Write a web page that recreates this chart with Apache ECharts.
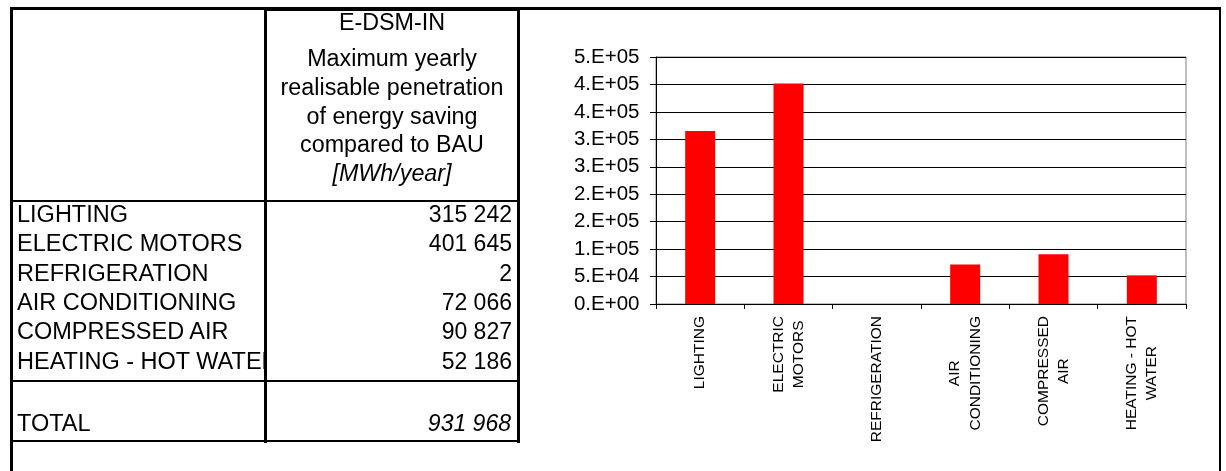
<!DOCTYPE html>
<html>
<head>
<meta charset="utf-8">
<script src="https://cdn.jsdelivr.net/npm/echarts@6/dist/echarts.min.js"></script>
<style>
  html, body { margin: 0; padding: 0; background: #fff; }
  #wrap { position: relative; width: 1226px; height: 471px; overflow: hidden; background: #fff; }
  #chart { position: absolute; left: 0; top: 0; width: 1226px; height: 471px; }
  .ln { position: absolute; background: #000; z-index: 6; }
  .txt { position: absolute; z-index: 7; font-family: "Liberation Sans", Arial, sans-serif; font-size: 23px; color: #000; white-space: nowrap; height: 29px; line-height: 29px; }
</style>
</head>
<body>
<div id="wrap">
  <div id="chart"></div>
  <div id="table"></div>
</div>
<script>
// ---- data ----
const categories = ['LIGHTING', 'ELECTRIC MOTORS', 'REFRIGERATION', 'AIR CONDITIONING', 'COMPRESSED AIR', 'HEATING - HOT WATER'];
const axisCategoryLabels = ['LIGHTING', 'ELECTRIC\nMOTORS', 'REFRIGERATION', 'AIR\nCONDITIONING', 'COMPRESSED\nAIR', 'HEATING - HOT\nWATER'];
const savings = [315242, 401645, 2, 72066, 90827, 52186];
const totalLabel = 'TOTAL';
const totalSaving = 931968;
const headerLines = ['E-DSM-IN', 'Maximum yearly', 'realisable penetration', 'of energy saving', 'compared to BAU'];
const headerUnit = '[MWh/year]';
const yTickLabels = ['0.E+00', '5.E+04', '1.E+05', '2.E+05', '2.E+05', '3.E+05', '3.E+05', '4.E+05', '4.E+05', '5.E+05'];
const yStep = 50000;

function fmt(n) {
  return String(n).replace(/\B(?=(\d{3})+(?!\d))/g, ' ');
}

// ---- table (HTML) ----
const T = document.getElementById('table');
function line(x, y, w, h) {
  const d = document.createElement('div');
  d.className = 'ln';
  d.style.left = x + 'px'; d.style.top = y + 'px';
  d.style.width = w + 'px'; d.style.height = h + 'px';
  T.appendChild(d);
}
function text(s, opts) {
  const d = document.createElement('div');
  d.className = 'txt';
  d.textContent = s;
  Object.assign(d.style, opts);
  T.appendChild(d);
  return d;
}
// outer frame
line(10, 7, 1211, 2.5);
line(10, 7, 2.5, 470);
line(1218.5, 7, 2.5, 470);
// table grid
line(264, 7, 2.8, 435.5);
line(517, 7, 3, 435.5);
line(265, 8, 255, 3);
line(10, 199.5, 510, 2.6);
line(10, 379.5, 510, 2.8);
line(10, 439.5, 510, 2.8);

// header text
const headerCenters = [22, 58, 87, 116, 144.5];
headerLines.forEach((s, i) => {
  text(s, { left: '267px', width: '250px', textAlign: 'center', top: (headerCenters[i] - 14.5) + 'px', fontSize: '23.3px' });
});
text(headerUnit, { left: '267px', width: '250px', textAlign: 'center', top: (173 - 14.5) + 'px', fontStyle: 'italic', fontSize: '23.3px' });

// data rows
const rowTop = 214.5, rowPitch = 29.3;
categories.forEach((c, i) => {
  const cy = rowTop + i * rowPitch;
  text(c, { left: '17px', width: '247px', overflow: 'hidden', top: (cy - 14.5) + 'px', fontSize: '23.5px' });
  text(fmt(savings[i]), { left: '267px', width: '245px', textAlign: 'right', top: (cy - 14.5) + 'px' });
});
text(totalLabel, { left: '17px', width: '247px', top: (423.3 - 14.5) + 'px', fontSize: '23.5px' });
text(fmt(totalSaving), { left: '267px', width: '244px', textAlign: 'right', top: (423.3 - 14.5) + 'px', fontStyle: 'italic' });

// ---- chart ----
const chart = echarts.init(document.getElementById('chart'), null, { renderer: 'canvas' });
const FONT = '"Liberation Sans", Arial, sans-serif';
chart.setOption({
  backgroundColor: '#fff',
  animation: false,
  grid: {
    left: 656, right: 40, top: 57, bottom: 167,
    show: true, borderColor: '#808080', borderWidth: 1, backgroundColor: 'transparent'
  },
  xAxis: {
    type: 'category',
    data: axisCategoryLabels,
    boundaryGap: true,
    axisLine: { show: true, lineStyle: { color: '#000', width: 1 } },
    axisTick: { show: true, length: 5, lineStyle: { color: '#000' } },
    axisLabel: {
      interval: 0,
      rotate: 90,
      margin: 12,
      color: '#000',
      fontFamily: FONT,
      fontSize: 15.5,
      lineHeight: 20.5,
      formatter: v => v.split('\n').map(s => '{c|' + s + '}').join('\n'),
      rich: { c: { align: 'center', fontFamily: FONT, fontSize: 15.5, lineHeight: 20.5, color: '#000' } }
    },
    splitLine: { show: false }
  },
  yAxis: {
    type: 'value',
    min: 0,
    max: yStep * (yTickLabels.length - 1),
    interval: yStep,
    axisLine: { show: true, lineStyle: { color: '#000', width: 1 } },
    axisTick: { show: true, length: 6, lineStyle: { color: '#000' } },
    axisLabel: {
      margin: 16.5,
      color: '#000',
      fontFamily: FONT,
      fontSize: 20.5,
      formatter: v => yTickLabels[Math.round(v / yStep)]
    },
    splitLine: { show: true, lineStyle: { color: '#000', width: 1 } }
  },
  series: [{
    type: 'bar',
    data: savings,
    barWidth: 30,
    itemStyle: { color: '#FF0000' }
  }]
});
</script>
</body>
</html>
